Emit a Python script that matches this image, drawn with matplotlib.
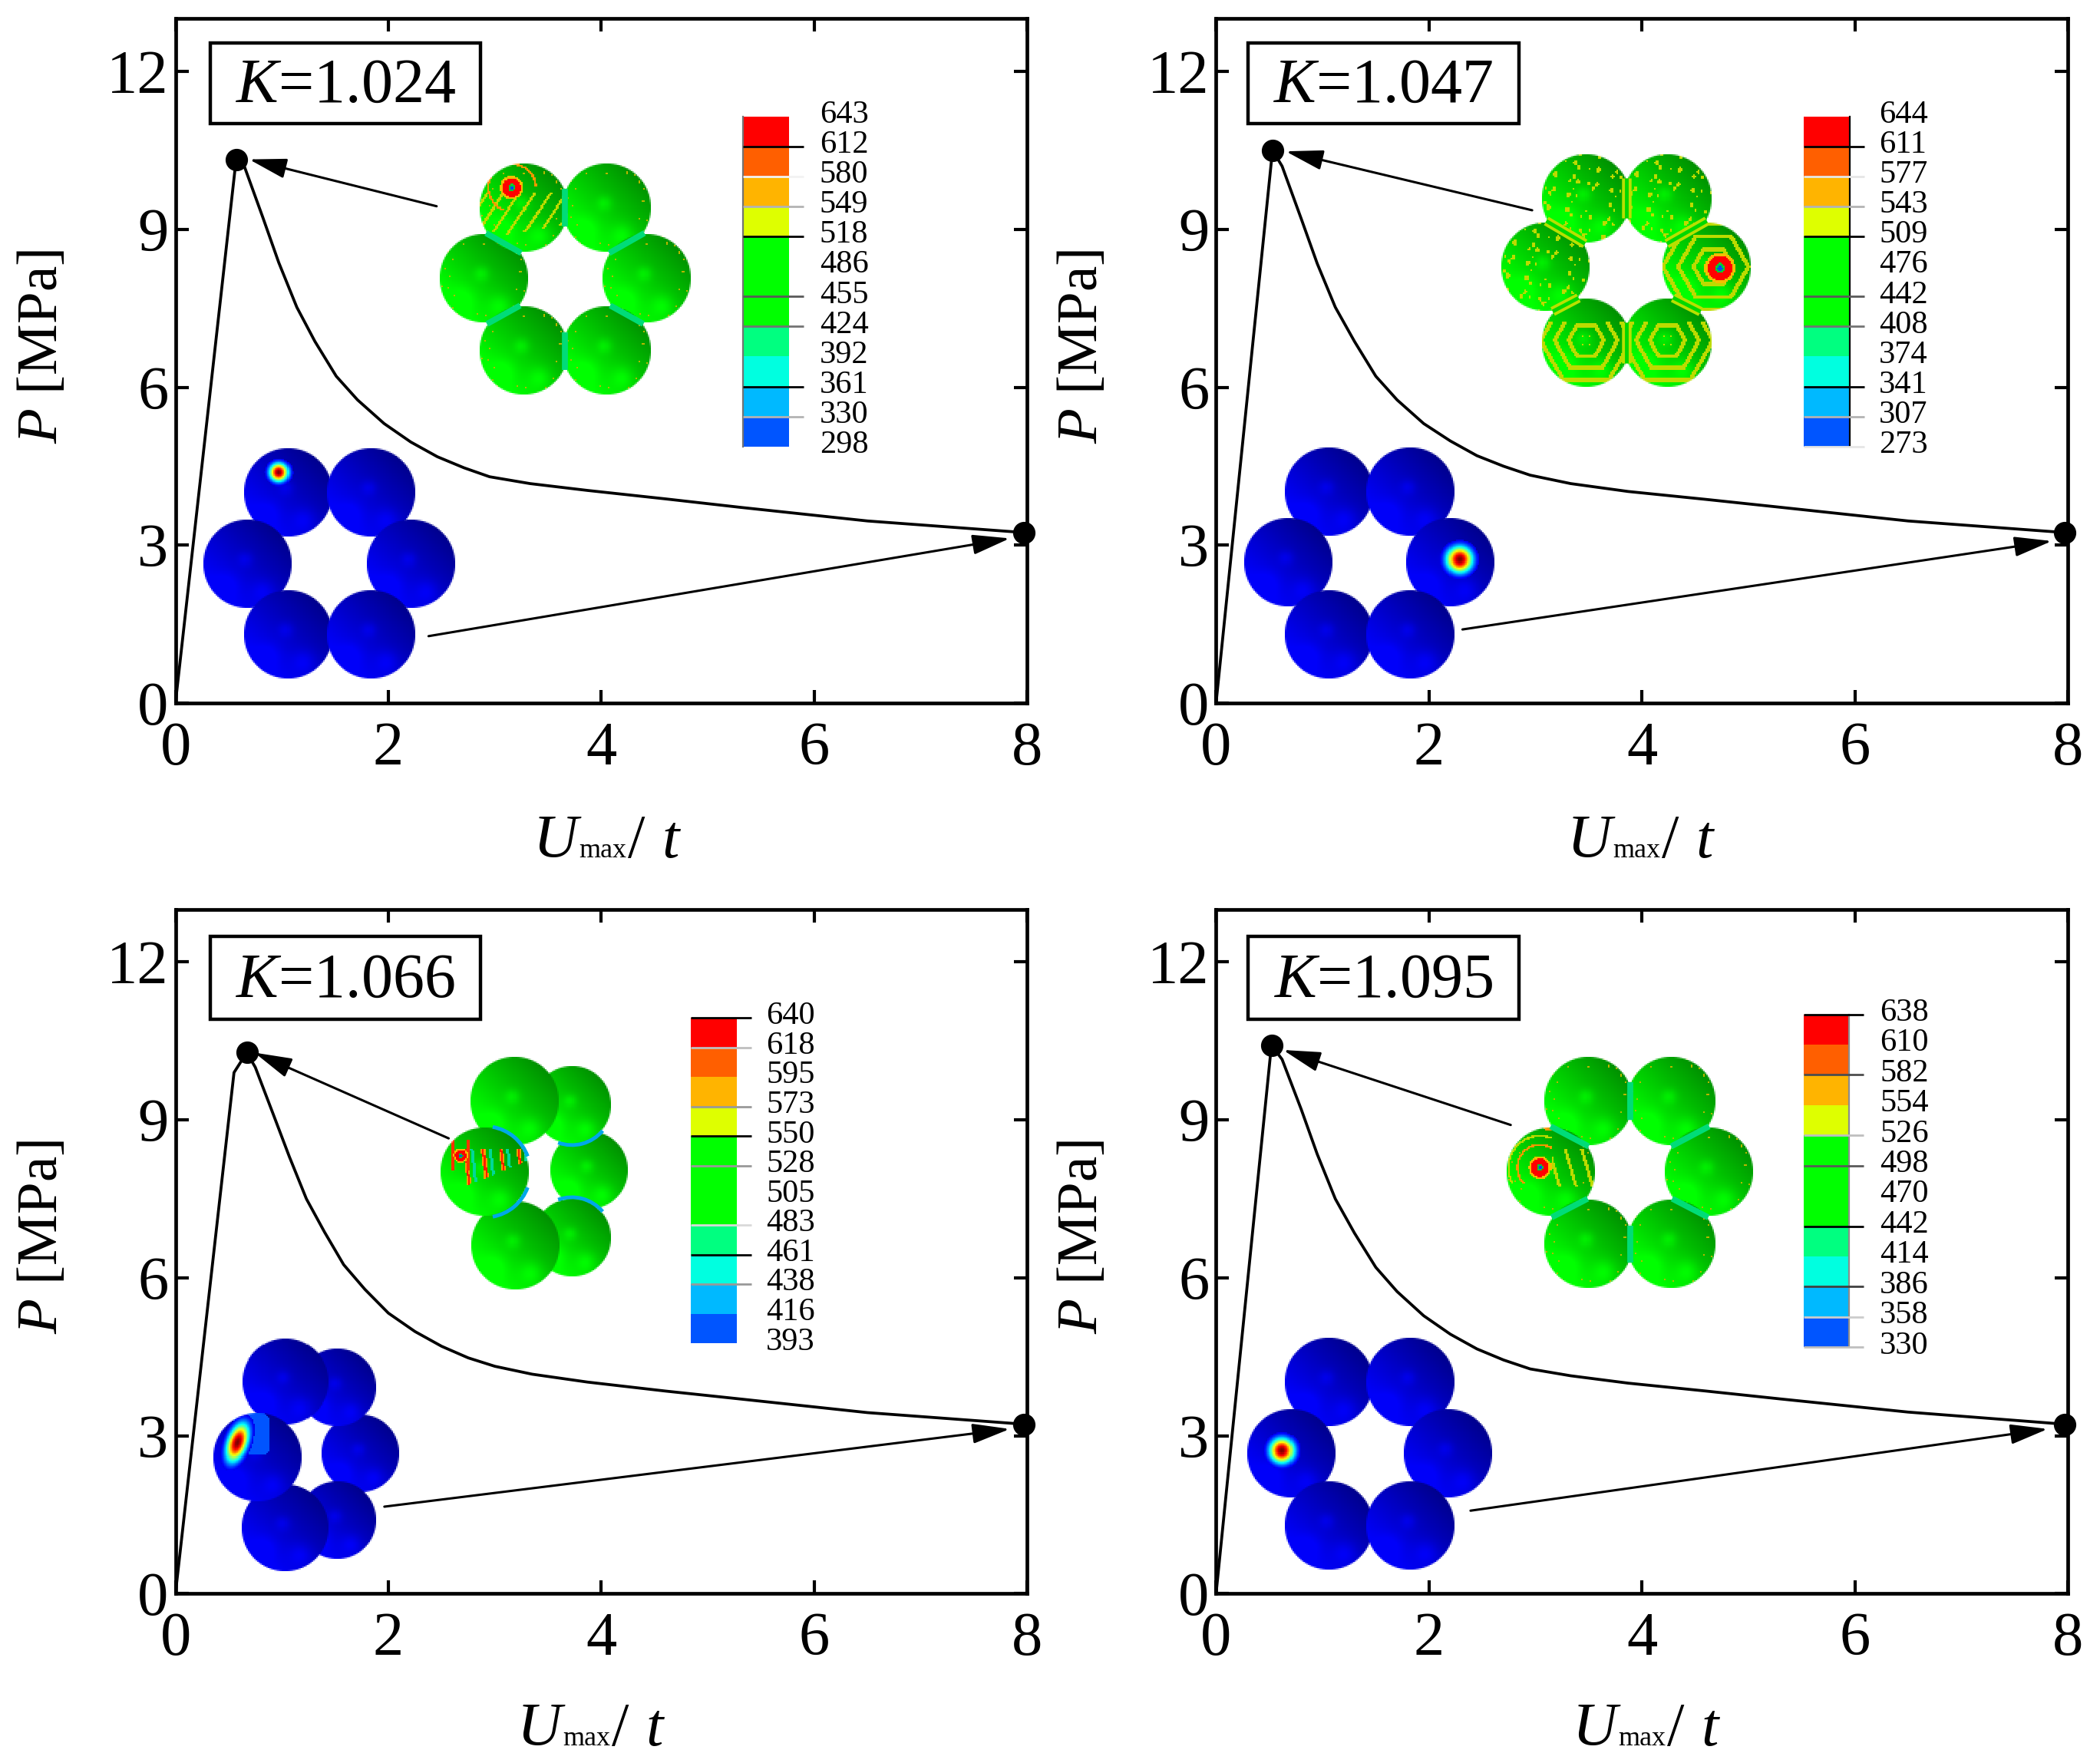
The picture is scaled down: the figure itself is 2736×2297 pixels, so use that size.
import numpy as np
import matplotlib
matplotlib.use('Agg')
import matplotlib.pyplot as plt
from matplotlib.patches import Rectangle, Arc

plt.rcParams['font.family'] = ['Liberation Serif', 'DejaVu Serif']
plt.rcParams['mathtext.fontset'] = 'custom'
plt.rcParams['mathtext.rm'] = 'Liberation Serif'
plt.rcParams['mathtext.it'] = 'Liberation Serif:italic'

# curves
x_1024 = [0, 0.57, 0.65, 0.82, 0.97, 1.14, 1.31, 1.51, 1.71, 1.96, 2.21, 2.46, 2.71, 2.95, 3.33, 3.87, 4.6, 5.3, 6.5, 7.97]
y_1024 = [0, 10.33, 10.18, 9.23, 8.37, 7.52, 6.87, 6.21, 5.76, 5.31, 4.96, 4.68, 4.47, 4.3, 4.17, 4.04, 3.88, 3.72, 3.46, 3.24]
x_1047 = [0, 0.53, 0.62, 0.8, 0.95, 1.12, 1.3, 1.5, 1.7, 1.95, 2.2, 2.45, 2.7, 2.95, 3.33, 3.87, 4.6, 5.3, 6.5, 7.97]
y_1047 = [0, 10.5, 10.2, 9.2, 8.35, 7.52, 6.87, 6.21, 5.76, 5.31, 4.98, 4.7, 4.5, 4.33, 4.17, 4.02, 3.87, 3.72, 3.46, 3.24]
x_1066 = [0, 0.55, 0.67, 0.75, 0.92, 1.07, 1.23, 1.4, 1.58, 1.78, 2.0, 2.25, 2.5, 2.75, 3.0, 3.35, 3.87, 4.6, 5.3, 6.5, 7.97]
y_1066 = [0, 9.9, 10.28, 10.0, 9.1, 8.3, 7.5, 6.87, 6.25, 5.78, 5.33, 4.98, 4.7, 4.48, 4.32, 4.17, 4.02, 3.85, 3.7, 3.44, 3.22]
x_1095 = [0, 0.52, 0.62, 0.8, 0.95, 1.12, 1.3, 1.5, 1.7, 1.95, 2.2, 2.45, 2.7, 2.95, 3.33, 3.87, 4.6, 5.3, 6.5, 7.97]
y_1095 = [0, 10.42, 10.15, 9.2, 8.35, 7.5, 6.85, 6.2, 5.74, 5.28, 4.93, 4.65, 4.44, 4.27, 4.14, 4.0, 3.85, 3.7, 3.45, 3.22]

titles = ['K=1.024', 'K=1.047', 'K=1.066', 'K=1.095']

# contour legend labels
lev_1024 = [643, 612, 580, 549, 518, 486, 455, 424, 392, 361, 330, 298]
lev_1047 = [644, 611, 577, 543, 509, 476, 442, 408, 374, 341, 307, 273]
lev_1066 = [640, 618, 595, 573, 550, 528, 505, 483, 461, 438, 416, 393]
lev_1095 = [638, 610, 582, 554, 526, 498, 470, 442, 414, 386, 358, 330]
lev_cols = ['#ff0000', '#ff5f00', '#ffb400', '#deff00', '#00ff00', '#00ff00',
            '#00ff00', '#00ff80', '#00ffe0', '#00b9ff', '#0055ff']

W, H = 2736, 2297
S = 2736 / 1568  # most positions below were measured on the 1568 wide view

# layout, in view pixels: left, right, top, bottom of axes
boxes = [(131, 767, 14, 525), (908, 1544, 14, 525),
         (131, 767, 679, 1190), (908, 1544, 679, 1190)]
# K label box: left, top, height
kboxes = [(157, 32, 60), (932, 32, 60), (157, 699, 62), (932, 699, 62)]
# start and baseline of the x label
xlabs = [(398, 640), (1170, 640), (386, 1303), (1174, 1303)]
# colour bar: left, top, cell height, label x, side line x, side line grey
bars = [(555, 87, 22.4, 612, 555, '0.45'), (1347, 87, 22.4, 1403, 1381, '0'),
        (516, 760, 22.1, 572, None, None), (1346.5, 757.4, 22.6, 1403.5, 1380.6, '0.55')]
tick_grey = [[None, 0, 0.95, 0.7, 0, None, 0.35, 0.45, None, 0, 0.7, None],
             [None, 0, 0.9, 0.7, 0, None, 0.35, 0.45, None, 0, 0.7, 0.9],
             [0, 0.75, None, 0.6, 0, 0.6, None, 0.85, 0, 0.6, None, None],
             [0, None, 0.3, None, 0.75, 0.35, None, 0, None, 0.25, 0.8, 0.75]]
arrows = [[((326, 154), (186, 119)), ((320, 475), (754, 402))],
          [((1144, 157), (960, 113)), ((1092, 470), (1532, 404))],
          [((335, 850), (190, 786)), ((287, 1125), (754, 1067))],
          [((1128, 840), (958, 784)), ((1098, 1128), (1529, 1067))]]

ring_a = [(391, 155), (453, 155), (361, 208), (483, 208), (391, 262), (453, 262)]
ring_b = [(215, 368), (277, 368), (185, 421), (307, 421), (215, 474), (277, 474)]
ring_c = [(1184, 148), (1245, 148), (1154, 199), (1274, 199), (1184, 256), (1245, 256)]
ring_d = [(992, 367), (1053, 367), (962, 420), (1083, 420), (992, 474), (1053, 474)]
ring_e = [(440, 874, 30), (427, 825, 30), (427, 924, 30), (384, 822, 34), (385, 930, 34), (362, 875, 34)]
ring_f = [(269, 1085, 30), (252, 1036, 30), (252, 1135, 30), (213, 1032, 33), (213, 1141, 33.5), (192, 1088, 34)]
ring_g = [(1186, 822), (1248, 822), (1158, 875), (1276, 875), (1186, 929), (1248, 929)]
ring_h = [(992, 1032), (1053, 1032), (964, 1085), (1081, 1085), (992, 1139), (1053, 1139)]


def jet(v):
    r = np.clip(1.5 - abs(4 * v - 3), 0, 1)
    g = np.clip(1.5 - abs(4 * v - 2), 0, 1)
    b = np.clip(1.5 - abs(4 * v - 1), 0, 1)
    return np.dstack([r, g, b])


def sphere(ov, cx, cy, r=34, tone='g', hot=None, pat=None):
    r = r * S
    px, py = cx * S, cy * S
    n = int(2 * r / 2)
    gx, gy = np.meshgrid(np.linspace(-1, 1, n), np.linspace(-1, 1, n))
    d = np.hypot(gx, gy)
    li = 0.8 - 0.17 * np.clip(gx - gy, -1.5, 1.5)
    li += 0.14 * np.exp(-((gx + 0.05)**2 + (gy + 0.1)**2) / 0.025)
    li += 0.14 * np.exp(-((gx - 0.35)**2 + (gy - 0.6)**2) / 0.06)
    li += 0.1 * np.exp(-((gx + 0.45)**2 + (gy - 0.45)**2) / 0.08)
    li = np.clip(li, 0, 1)
    zero = np.zeros_like(li)
    rgb = np.dstack([zero, li, zero]) if tone == 'g' else np.dstack([zero, zero, li * 0.98])
    yellow = np.array([0.74, 0.86, 0.0])
    if pat == 'edge':
        m = np.sin(41 * gx + 7 * gy + 1) + np.sin(47 * gy - 13 * gx) + np.sin(29 * gx + 23 * gy) > 2.45
        rgb[m & (d > 0.72)] = [0.72, 0.72, 0]
    if pat == 'speckle':
        m = (np.sin(13.7 * gx + 3 * gy) + np.sin(17.3 * gy - 5 * gx + 1)
             + np.sin(29 * gx + 23 * gy + 2) + np.sin(31 * gx - 19 * gy)) > 1.9
        rgb[m & (d > 0.2)] = yellow
    if pat == 'rings':
        q = gy + 0.05
        hexd = np.maximum(np.abs(gx) * 0.87 + np.abs(q) * 0.5, np.abs(q))
        m = (np.sin(2 * np.pi * hexd / 0.27) > 0.5) & (hexd > 0.1) & (gy > -0.45)
        rgb[m] = yellow
    if pat == 'halo':
        hexd = np.maximum(np.abs(gx - 0.15) * 0.87 + np.abs(gy) * 0.5, np.abs(gy))
        rgb[np.sin(2 * np.pi * hexd / 0.3) > 0.55] = yellow
    if hot is not None:
        hx, hy, size, kind = hot
        hx, hy = (hx * S - px) / r, (hy * S - py) / r
        dh = np.hypot(gx - hx, gy - hy)
        if kind == 'blob':
            v = np.exp(-(dh / size) ** 2 * 1.6)
            o = jet(v)
            rgb[dh < size * 1.2] = o[dh < size * 1.2]
        elif kind == 'ell':
            rgb[(gx > -0.55) & (gx < 0.25) & (gy > -0.98) & (gy < -0.05)
                & ((gx + 0.15)**2 + (gy + 0.5)**2 < 0.3)] = [0, 0.33, 1]
            c, s = np.cos(np.radians(20)), np.sin(np.radians(20))
            u = (gx - hx) * c + (gy - hy) * s
            w = -(gx - hx) * s + (gy - hy) * c
            de = np.sqrt((u / 0.5)**2 + w**2)
            v = np.exp(-(de / size) ** 2 * 1.6)
            o = jet(v)
            rgb[de < size * 1.2] = o[de < size * 1.2]
        else:
            if kind == 'streak':
                u = gx + 0.67 * gy
                m = (np.sin(18 * u + 1) > 0.8) & (gy > hy + 0.12) & (gy < 0.6 - 0.2 * np.abs(u))
                rgb[m] = yellow
                a = (dh > 0.5) & (dh < 0.55) & (gy < hy - 0.02 + 0.5 * (gx < hx))
                rgb[a] = [0.95, 0.6, 0]
            if kind == 'streak2':
                u = gx - 0.3 * gy
                m = (np.sin(17 * u) > 0.8) & (gx > hx + 0.25) & (np.abs(gy - hy) < 0.4)
                rgb[m] = yellow
                for rad, col in [(0.48, [0.95, 0.6, 0]), (0.68, [0.74, 0.86, 0]), (0.85, [0.95, 0.6, 0])]:
                    rgb[(dh > rad) & (dh < rad + 0.05) & (gx < hx + 0.25) & (gy < hy + 0.35) & (d < 0.98)] = col
            if kind == 'wild':
                u = gx - 0.12 * gy
                m = np.sin(16 * u + 1.2) > 0.75
                band = (gy > hy - 0.15) & (gy < hy + 0.5 - 0.4 * gx)
                rgb[m & band & (gx > hx)] = [1.0, 0.6, 0]
                rgb[(np.sin(16 * u + 1.2) > 0.95) & band & (gx > hx)] = [1, 0.1, 0]
                rgb[(np.sin(16 * u - 1.2) > 0.85) & band & (gx > hx)] = [0, 0.85, 0.6]
                rgb[(np.abs(gx - hx) > size) & (np.abs(gx - hx) < size + 0.07) & (np.abs(gy - hy) < 0.35)] = [1, 0.2, 0]
            rgb[(dh >= size) & (dh < size * 1.25)] = [0.95, 0.75, 0]
            rgb[(dh < size) & (dh > size * 0.38)] = [1, 0, 0]
            rgb[(dh <= size * 0.38) & (dh > size * 0.2)] = [0, 0.8, 0.2]
            rgb[dh <= size * 0.2] = [0, 0.3, 1]
    alpha = np.clip((1 - d) * n / 2, 0, 1)
    ov.imshow(np.dstack([rgb, alpha]), extent=(px - r, px + r, py + r, py - r),
              aspect='auto', interpolation='nearest', zorder=2)


def seams(ov, ring, col, r=34, lw=5.6):
    for i, j in [(0, 1), (0, 2), (1, 3), (2, 4), (3, 5), (4, 5)]:
        ax_, ay_ = ring[i]
        bx_, by_ = ring[j]
        mx, my = (ax_ + bx_) / 2, (ay_ + by_) / 2
        dx, dy = bx_ - ax_, by_ - ay_
        n = np.hypot(dx, dy)
        h = np.sqrt(max(r**2 - (n / 2)**2, 0))
        ov.plot([(mx - dy / n * h) * S, (mx + dy / n * h) * S],
                [(my + dx / n * h) * S, (my - dx / n * h) * S],
                color=col, lw=lw, zorder=3, solid_capstyle='butt')


fig = plt.figure(figsize=(W / 100, H / 100), dpi=100, facecolor='white')

curves = [(x_1024, y_1024), (x_1047, y_1047), (x_1066, y_1066), (x_1095, y_1095)]
for (l, r, t, b), (xs, ys) in zip(boxes, curves):
    ax = fig.add_axes([l * S / W, 1 - b * S / H, (r - l) * S / W, (b - t) * S / H])
    ax.plot(xs, ys, color='black', lw=2.7, zorder=3)
    i = int(np.argmax(ys))
    ax.plot([xs[i], xs[-1]], [ys[i], ys[-1]], 'o', color='black', ms=20, clip_on=False, zorder=5)
    ax.set_xlim(0, 8)
    ax.set_ylim(0, 13)
    ax.set_xticks([0, 2, 4, 6, 8])
    ax.set_yticks([0, 3, 6, 9, 12])
    ax.tick_params(direction='in', top=True, right=True, length=12.5, width=3,
                   labelsize=58)
    ax.tick_params(axis='x', pad=17)
    ax.tick_params(axis='y', pad=6.5)
    for sp in ax.spines.values():
        sp.set_linewidth(3.4)

# overlay in reference pixels, for the contour pictures and annotations
ov = fig.add_axes([0, 0, 1, 1], facecolor='none')
ov.set_axis_off()

GRN = '#00dc78'
for c in ring_a[1:]:
    sphere(ov, *c, pat='edge')
sphere(ov, *ring_a[0], hot=(382, 140, 0.21, 'streak'), pat='edge')
seams(ov, ring_a, GRN)
for i, c in enumerate(ring_b):
    sphere(ov, *c, tone='b', hot=(208, 353, 0.26, 'blob') if i == 0 else None)
seams(ov, ring_c, '#b8e000', lw=9)
for i, c in enumerate(ring_c):
    pat = 'speckle' if i < 3 else 'rings'
    if i == 3:
        pat = 'halo'
    sphere(ov, *c, pat=pat, hot=(1284, 200, 0.27, 'ring') if i == 3 else None)
seams(ov, ring_c, '#00d800', lw=3.5)
for i, c in enumerate(ring_d):
    sphere(ov, *c, tone='b', hot=(1090, 418, 0.36, 'blob') if i == 3 else None)
for i, c in enumerate(ring_e):
    if i == 5:
        sphere(ov, c[0], c[1], c[2], hot=(344, 863, 0.13, 'wild'))
    else:
        sphere(ov, c[0], c[1], c[2])
for cx, cy, rr, a0, a1 in [(362, 875, 34, 280, 340), (362, 875, 34, 20, 80),
                           (427, 825, 30, 40, 110), (427, 924, 30, 250, 320)]:
    ov.add_patch(Arc((cx * S, cy * S), 2 * rr * S, 2 * rr * S, theta1=a0, theta2=a1,
                     color='#00a8e8', lw=3.5, zorder=3))
for i, c in enumerate(ring_f):
    if i == 5:
        sphere(ov, c[0], c[1], c[2], tone='b', hot=(177, 1077, 0.55, 'ell'))
    else:
        sphere(ov, c[0], c[1], c[2], tone='b')
for i, c in enumerate(ring_g):
    sphere(ov, *c, hot=(1150, 872, 0.2, 'streak2') if i == 2 else None, pat='edge')
seams(ov, ring_g, GRN)
for i, c in enumerate(ring_h):
    sphere(ov, *c, tone='b', hot=(957, 1083, 0.34, 'blob') if i == 2 else None)

# colour bars
levels = [lev_1024, lev_1047, lev_1066, lev_1095]
for (bx, by, ch, lx, sx, sg), lev, grey in zip(bars, levels, tick_grey):
    for k, col in enumerate(lev_cols):
        ov.add_patch(Rectangle((bx * S, (by + k * ch) * S), 34 * S, ch * S,
                               facecolor=col, edgecolor='none', zorder=3))
    if sx is not None:
        ov.plot([sx * S, sx * S], [by * S, (by + 11 * ch) * S], color=sg, lw=1.6, zorder=4)
    for k, val in enumerate(lev):
        yy = (by + k * ch) * S
        ov.text(lx * S, yy - 2, str(val), fontsize=30.5, va='center', ha='left', zorder=4)
        if grey[k] is not None:
            ov.plot([bx * S, (bx + 45) * S], [yy, yy], color=str(grey[k]), lw=2, zorder=4,
                    solid_capstyle='butt')

# K boxes, axis labels, arrows
for (l, r, t, b), (kx, ky, kh), title, arr, (ux, uy) in zip(boxes, kboxes, titles, arrows, xlabs):
    ov.add_patch(Rectangle((kx * S, ky * S), 202 * S, kh * S, facecolor='white',
                           edgecolor='black', lw=3.2, zorder=4))
    ov.text((kx + 101) * S, (ky + kh / 2 + 3) * S, '$\\mathit{K}$' + title[1:], fontsize=59,
            ha='center', va='center', zorder=5)
    ov.text((l - 99) * S, ((t + b) / 2 - 11) * S, r'$\mathit{P}$ [MPa]', fontsize=54,
            rotation=90, ha='center', va='center')
    ov.text(ux * S, uy * S, 'U', style='italic', fontsize=58, ha='left', va='baseline')
    ov.text((ux + 34) * S, uy * S, 'max', fontsize=26, ha='left', va='baseline')
    ov.text((ux + 71) * S, uy * S, '/', fontsize=58, ha='left', va='baseline')
    ov.text((ux + 96) * S, uy * S, 't', style='italic', fontsize=58, ha='left', va='baseline')
    for p0, p1 in arr:
        ov.annotate('', xy=(p1[0] * S, p1[1] * S), xytext=(p0[0] * S, p0[1] * S),
                    arrowprops=dict(arrowstyle='-|>,head_length=3.0,head_width=0.8', color='black',
                                    lw=2.2, shrinkA=0, shrinkB=0), zorder=6)

ov.set_xlim(0, W)
ov.set_ylim(H, 0)

fig.savefig('out.png', dpi=100)
